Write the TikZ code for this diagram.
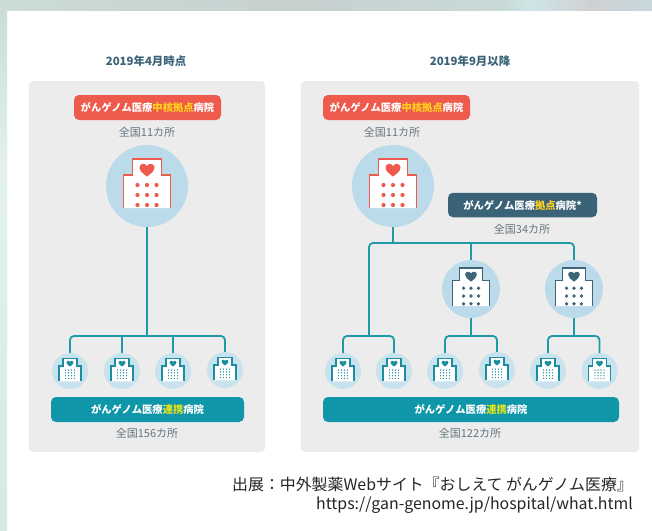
\documentclass[tikz,border=0pt]{standalone}
\usepackage{fontspec}
\setmainfont{Noto Sans CJK JP}
\newcommand\jpbold{\bfseries}
\definecolor{panelc}{HTML}{ECECEC}
\definecolor{redc}{HTML}{EE5A4B}
\definecolor{darkc}{HTML}{3B6377}
\definecolor{tealc}{HTML}{0F96A8}
\definecolor{linkc}{HTML}{1F9BA8}
\definecolor{blueL}{HTML}{BBDBEB}
\definecolor{blueS}{HTML}{C9E3EE}
\definecolor{hiY}{HTML}{FFD21E}
\definecolor{hiG}{HTML}{E4E31E}
\definecolor{capc}{HTML}{66757E}
\definecolor{srcc}{HTML}{262626}
\definecolor{navyb}{HTML}{3F6578}
\definecolor{tealb}{HTML}{1B8E9F}
\definecolor{bgA}{HTML}{CBDCD8}
\definecolor{bgB}{HTML}{C6D0CF}
\definecolor{bgC}{HTML}{C8DAD8}
\definecolor{bgD}{HTML}{CFE6E6}
\definecolor{bgE}{HTML}{D0D0D4}
\definecolor{bgF}{HTML}{C8D8DC}
\definecolor{bgG}{HTML}{E2F1EC}
\definecolor{bgH}{HTML}{D6EAE4}
\tikzset{
  x=1pt,y=-1pt,
  panelbox/.style={fill=panelc,rounded corners=4pt},
  pill/.style={rounded corners=5pt,minimum height=25pt,inner sep=0pt,text=white,font=\fontsize{10.3}{12}\jpbold},
  caption/.style={text=capc,font=\fontsize{11}{13}\selectfont,inner sep=0pt},
  titletext/.style={text=darkc,font=\fontsize{11.4}{13}\jpbold,inner sep=0pt},
  bigcirc/.style={circle,fill=blueL,minimum size=82pt,inner sep=0pt},
  midcirc/.style={circle,fill=blueL,minimum size=58pt,inner sep=0pt},
  smallcirc/.style={circle,fill=blueS,minimum size=36pt,inner sep=0pt},
  link/.style={draw=linkc,line width=1.8pt,rounded corners=4pt},
  source/.style={anchor=east,text=srcc,inner sep=0pt,font=\fontsize{15.9}{18}\selectfont}
}
% #1 node, #2 scale, #3 colour, #4 line width, #5 dot list x, #6 dot list y, #7 dot radius
\newcommand\bldg[7]{%
  \begin{scope}[shift={(#1.center)},scale=#2]
    \fill[white] (-23.5,22)--(-23.5,-11)--(-14.5,-11)--(-14.5,-27)--(14.5,-27)--(14.5,-11)--(23.5,-11)--(23.5,22)--cycle;
    \draw[#3,line width=#4] (-23.5,22)--(-23.5,-11)--(-14.5,-11)--(-14.5,-27)--(14.5,-27)--(14.5,-11)--(23.5,-11)--(23.5,22);
    \fill[#3] (0,-9.5) .. controls (-4,-12.5) and (-7.5,-15) .. (-7.5,-18.5) .. controls (-7.5,-22.5) and (-2,-23.5) .. (0,-20) .. controls (2,-23.5) and (7.5,-22.5) .. (7.5,-18.5) .. controls (7.5,-15) and (4,-12.5) .. (0,-9.5) -- cycle;
    \foreach \dx in {#5}{\foreach \dy in {#6}{\fill[#3] (\dx,\dy) circle (#7);}}
  \end{scope}}
\newcommand\smallb[1]{\bldg{#1}{.47}{tealb}{1.4pt}{-9.6,-3.2,3.2,9.6}{-2,4,10,16}{1.5pt}}
\begin{document}
\begin{tikzpicture}
\useasboundingbox (0,0) rectangle (652,530);
% backdrop
\fill[white] (0,0) rectangle (652,530);
\shade[left color=bgA,right color=bgB] (0,0) rectangle (300,10);
\shade[left color=bgB,right color=bgC] (300,0) rectangle (505,10);
\shade[left color=bgC,right color=bgD] (505,0) rectangle (530,10);
\shade[left color=bgD,right color=bgE] (530,0) rectangle (590,10);
\shade[left color=bgE,right color=bgF] (590,0) rectangle (652,10);
\shade[top color=bgA,bottom color=bgG] (0,0) rectangle (7,170);
\shade[top color=bgG,bottom color=bgH] (0,170) rectangle (7,530);
% panels
\fill[panelbox] (29,81) rectangle (265,452);
\fill[panelbox] (301,81) rectangle (639,452);
% titles
\node[titletext] (t1) at (146,61) {2019年4月時点};
\node[titletext] (t2) at (470,61) {2019年9月以降};
% left panel
\node[pill,fill=redc,minimum width=147pt] (r1) at (147.5,107.5) {がんゲノム医療\textcolor{hiY}{中核拠点}病院};
\node[caption] (c1) at (147,132) {全国11カ所};
\node[bigcirc] (h1) at (147,186) {};
\foreach \n/\x/\y in {a1/70/371,a2/122/371,a3/173/371,a4/225/370}{\node[smallcirc] (\n) at (\x,\y) {};}
\coordinate (busA) at (147,336);
\draw[link] (h1.south) -- (h1.south |- busA);
\draw[link] (a1.north) -- (a1.north |- busA) -- (a4.north |- busA) -- (a4.north);
\draw[link] (a2.north) -- (a2.north |- busA);
\draw[link] (a3.north) -- (a3.north |- busA);
\bldg{h1}{1}{redc}{1.3pt}{-9.5,0,9.5}{-1,9,19}{2.1pt}
\foreach \n in {a1,a2,a3,a4}{\smallb{\n}}
\node[pill,fill=tealc,minimum width=193pt] (g1) at (147.5,409.5) {がんゲノム医療\textcolor{hiG}{連携}病院};
\node[caption] (c2) at (147,433) {全国156カ所};
% right panel
\node[pill,fill=redc,minimum width=147pt] (r2) at (396.5,107.5) {がんゲノム医療\textcolor{hiY}{中核拠点}病院};
\node[caption] (c3) at (392,132) {全国11カ所};
\node[bigcirc] (h2) at (393,186) {};
\node[pill,fill=darkc,minimum width=149pt,minimum height=24.5pt] (d1) at (522.5,205) {がんゲノム医療\textcolor{hiY}{拠点}病院*};
\node[caption] (c4) at (522,229) {全国34カ所};
\node[midcirc] (m1) at (471,289) {};
\node[midcirc] (m2) at (574,289) {};
\foreach \n/\x/\y in {b1/343/371,b2/394/371,b3/445/371,b4/497/370,b5/548/371,b6/599.5/371}{\node[smallcirc] (\n) at (\x,\y) {};}
\coordinate (busT) at (393,243);
\coordinate (busB) at (393,336);
\coordinate (drop) at (369,336);
\draw[link] (h2.south) -- (h2.south |- busT);
\draw[link] (drop) -- (drop |- busT) -- (m2.north |- busT) -- (m2.north);
\draw[link] (m1.north) -- (m1.north |- busT);
\draw[link] (b1.north) -- (b1.north |- busB) -- (b2.north |- busB) -- (b2.north);
\draw[link] (b3.north) -- (b3.north |- busB) -- (b4.north |- busB) -- (b4.north);
\draw[link] (b5.north) -- (b5.north |- busB) -- (b6.north |- busB) -- (b6.north);
\draw[link] (m1.south) -- (m1.south |- busB);
\draw[link] (m2.south) -- (m2.south |- busB);
\bldg{h2}{1}{redc}{1.3pt}{-9.5,0,9.5}{-1,9,19}{2.1pt}
\bldg{m1}{.78}{navyb}{1.2pt}{-9.5,0,9.5}{-1,9,19}{2.4pt}
\bldg{m2}{.78}{navyb}{1.2pt}{-9.5,0,9.5}{-1,9,19}{2.4pt}
\foreach \n in {b1,b2,b3,b4,b5,b6}{\smallb{\n}}
\node[pill,fill=tealc,minimum width=296pt] (g2) at (471,409.5) {がんゲノム医療\textcolor{hiG}{連携}病院};
\node[caption] (c5) at (470,433) {全国122カ所};
% source
\node[source] (s1) at (633,484) {出展：中外製薬Webサイト『おしえて がんゲノム医療』};
\node[source] (s2) at (633,505) {https://gan-genome.jp/hospital/what.html};
\end{tikzpicture}
\end{document}
